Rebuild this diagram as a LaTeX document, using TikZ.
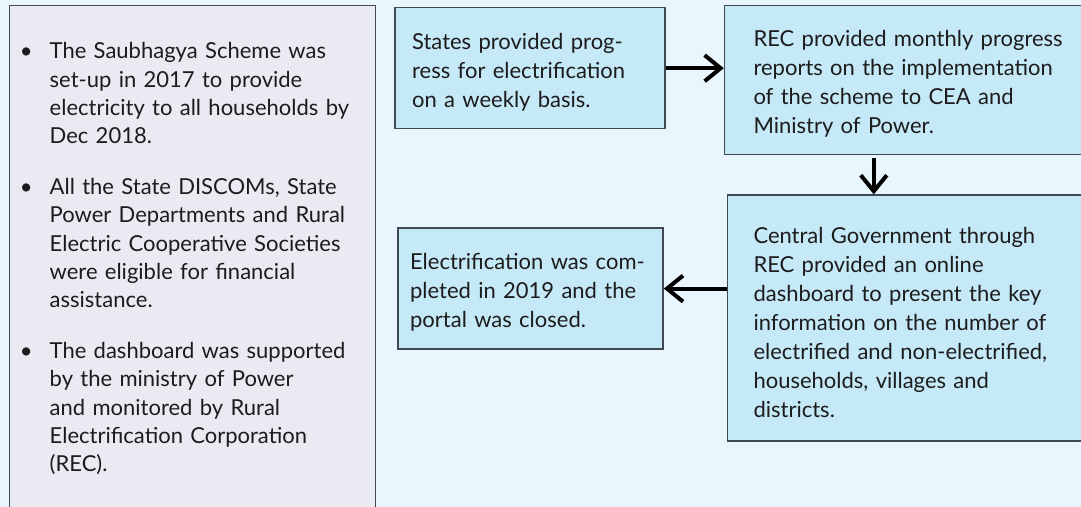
\documentclass[tikz,border=0pt]{standalone}
\usepackage{fontspec}
\setmainfont{Lato}
\usetikzlibrary{arrows.meta,positioning}
\definecolor{bgblue}{HTML}{E9F6FD}
\definecolor{boxblue}{HTML}{C6E9F8}
\definecolor{panelgrey}{HTML}{EAEAF2}
\definecolor{edgegrey}{HTML}{3F4A52}
\definecolor{inkblack}{HTML}{1C1C1C}

\begin{document}
\begin{tikzpicture}[
      step_box/.style={
         rectangle,
         draw=edgegrey,
         fill=boxblue,
         line width=0.7pt,
         anchor=north west,
         align=left,
         inner ysep=0pt,
         text=inkblack,
         execute at begin node={\rule{0pt}{12pt}},
         font=\fontsize{11}{14.5}\selectfont},
      panel_box/.style={
         rectangle,
         draw=edgegrey,
         fill=panelgrey,
         line width=0.7pt,
         anchor=north west,
         align=left,
         inner sep=0pt,
         text width=183pt,
         minimum height=257pt,
         text=inkblack,
         font=\fontsize{11}{14.2}\selectfont},
      arrow_thick/.style={
         -{Straight Barb[length=8pt,width=13pt]},
         line width=2pt,
         draw=black}
]
      \useasboundingbox (0,0) rectangle (540.5pt,-253.5pt);
      \fill[bgblue] (0,0) rectangle (540.5pt,-253.5pt);
      \clip (0,0) rectangle (540.5pt,-253.5pt);

      %left panel
      \node[panel_box] (info) at (4.5pt,-2.5pt) {%
         \setlength{\leftmargini}{20pt}\setlength{\labelsep}{8.5pt}%
         \begin{itemize}\setlength{\itemsep}{7pt}\setlength{\topsep}{0pt}
         \item The Saubhagya Scheme was\\ set-up in 2017 to provide\\
               electricity to all households by\\ Dec 2018.
         \item All the State DISCOMs, State\\ Power Departments and Rural\\
               Electric Cooperative Societies\\ were eligible for financial\\
               assistance.
         \item The dashboard was supported\\ by the ministry of Power\\
               and monitored by Rural\\ Electrification Corporation\\ (REC).
         \end{itemize}\vspace*{10pt}};

      %flow boxes
      \node[step_box,right=9pt of info.north east,anchor=north west,yshift=-1pt,
            inner xsep=8.5pt,text width=118pt,minimum height=60.5pt] (stateA)
            {States provided prog-\\ ress for electrification\\ on a weekly basis.};
      \node[step_box,right=29pt of stateA.north east,anchor=north west,yshift=1pt,
            inner xsep=14.5pt,text width=175pt,minimum height=74.5pt] (recB)
            {REC provided monthly progress\\ reports on the implementation\\
             of the scheme to CEA and\\ Ministry of Power.};
      \node[step_box,below=19.5pt of recB.south west,anchor=north west,xshift=1.5pt,
            inner xsep=13pt,text width=175pt,minimum height=123pt] (dashC)
            {Central Government through\\ REC provided an online\\
             dashboard to present the key\\ information on the number of\\
             electrified and non-electrified,\\ households, villages and\\ districts.};
      \node[step_box,left=31.5pt of dashC.north west,anchor=north east,yshift=-16.5pt,
            inner xsep=6pt,text width=120.5pt,minimum height=60.5pt] (doneD)
            {Electrification was com-\\ pleted in 2019 and the\\ portal was closed.};

      \draw[arrow_thick] (stateA.east) -- (stateA.east -| recB.west);
      \draw[arrow_thick,shorten <=1.5pt] ([xshift=75pt]recB.south west)
            -- ([xshift=75pt]recB.south west |- dashC.north);
      \draw[arrow_thick] (doneD.east -| dashC.west) -- (doneD.east);
\end{tikzpicture}
\end{document}
